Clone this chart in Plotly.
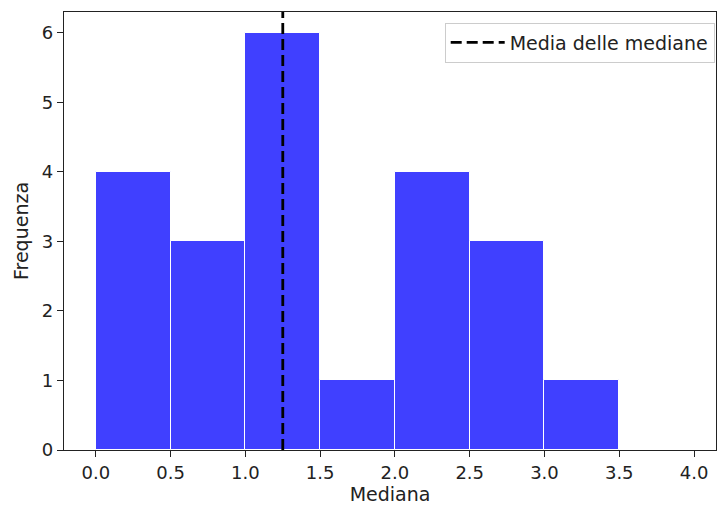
import plotly.graph_objects as go

bin_left = [0.0, 0.5, 1.0, 1.5, 2.0, 2.5, 3.0]
bin_width = 0.5
counts = [4, 3, 6, 1, 4, 3, 1]
mean_median = 1.25
x_ticks = [0.0, 0.5, 1.0, 1.5, 2.0, 2.5, 3.0, 3.5, 4.0]
y_ticks = [0, 1, 2, 3, 4, 5, 6]

fig = go.Figure()
fig.add_trace(go.Bar(
    x=[b + bin_width / 2 for b in bin_left], y=counts, width=bin_width,
    marker=dict(color="rgba(0,0,255,0.75)", line=dict(color="white", width=1)),
    showlegend=False, hoverinfo="skip"))
fig.add_trace(go.Scatter(
    x=[mean_median, mean_median], y=[0, 6.3], mode="lines",
    line=dict(color="black", width=2.8, dash="11px,5px"),
    name="Media delle mediane"))

font = dict(family="DejaVu Sans", size=18, color="#222")
title_font = dict(family="DejaVu Sans", size=19, color="#222")
fig.update_layout(
    width=718, height=508, margin=dict(l=64, r=2, t=12, b=58),
    plot_bgcolor="white", paper_bgcolor="white", font=font,
    bargap=0,
    xaxis=dict(range=[-0.213, 4.147], tickvals=x_ticks,
               ticktext=[f"{v:.1f}" for v in x_ticks],
               showline=True, linecolor="#222", linewidth=1.3, mirror=True,
               ticks="outside", ticklen=6, tickwidth=1.3, tickcolor="#222",
               showgrid=False, zeroline=False,
               title=dict(text="Mediana", standoff=4, font=title_font)),
    yaxis=dict(range=[0, 6.3], tickvals=y_ticks, showline=True, linecolor="#222",
               linewidth=1.3, mirror=True, ticks="outside", ticklen=6,
               tickwidth=1.3, tickcolor="#222", showgrid=False, zeroline=False,
               title=dict(text="Frequenza", standoff=8, font=title_font)),
    legend=dict(x=0.998, y=0.976, xanchor="right", yanchor="top",
                bgcolor="rgba(255,255,255,0.8)", bordercolor="#ccc", borderwidth=1,
                itemwidth=54,
                font=dict(family="DejaVu Sans", size=19, color="#222")),
)
fig.write_html("out.html")
